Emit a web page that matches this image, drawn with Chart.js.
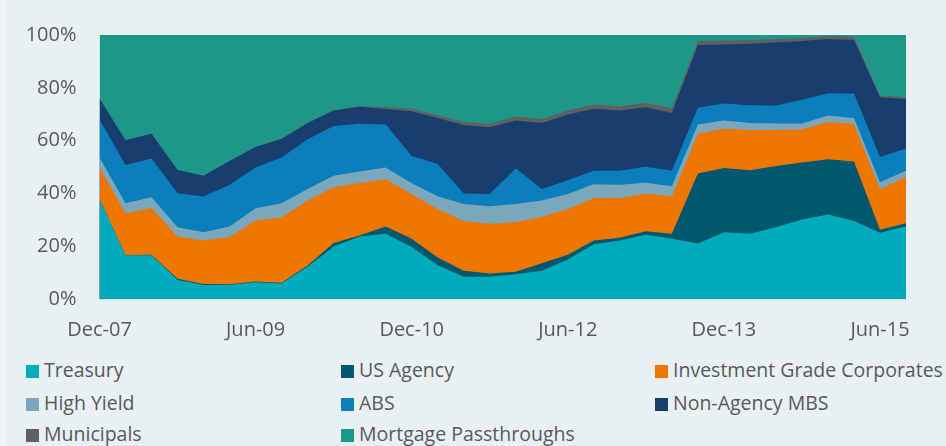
<!DOCTYPE html>
<html>
<head>
<meta charset="utf-8">
<script src="https://cdn.jsdelivr.net/npm/chart.js@4"></script>
<style>
    body { margin: 0; width: 946px; height: 446px; background: #eef4f7; overflow: hidden; font-family: 'Open Sans', sans-serif; }
    #panel { position: absolute; left: 7px; top: 0; width: 939px; height: 446px; background: #e8f0f4; }
    #chartBox { position: absolute; left: 0; top: 0; width: 946px; height: 350px; }
    .legend-item { position: absolute; height: 26px; line-height: 26px; font-size: 19.5px; color: #595959; white-space: nowrap; }
    .legend-item span { display: inline-block; width: 13px; height: 13px; margin-right: 5px; vertical-align: -1px; }
</style>
</head>
<body>
<div id="panel"></div>
<div id="chartBox"><canvas id="chart" width="946" height="350"></canvas></div>
<div id="legend"></div>
<script>
// quarter-end dates
const quarters = ['Dec-07', 'Mar-08', 'Jun-08', 'Sep-08', 'Dec-08', 'Mar-09', 'Jun-09', 'Sep-09',
    'Dec-09', 'Mar-10', 'Jun-10', 'Sep-10', 'Dec-10', 'Mar-11', 'Jun-11', 'Sep-11',
    'Dec-11', 'Mar-12', 'Jun-12', 'Sep-12', 'Dec-12', 'Mar-13', 'Jun-13', 'Sep-13',
    'Dec-13', 'Mar-14', 'Jun-14', 'Sep-14', 'Dec-14', 'Mar-15', 'Jun-15', 'Sep-15'];

// sector weights, % of portfolio
const treasury = [37.9, 16.6, 16.6, 7.2, 5.3, 5.3, 6.3, 5.9, 12.2, 19.9, 23.7, 24.7, 19.7, 12.8, 8.4, 8.4,
    9.4, 10.7, 15.0, 20.7, 22.2, 24.3, 22.8, 21.0, 25.3, 24.7, 27.2, 30.1, 32.0, 29.5, 25.1, 27.5];
const usAgency = [0, 0, 0.2, 0.5, 0.4, 0.3, 0.3, 0.3, 0.5, 1.3, 0.4, 2.8, 3.1, 2.9, 2.3, 1.3,
    0.9, 2.8, 1.8, 1.5, 1.0, 1.4, 1.9, 26.5, 24.3, 24.1, 23.2, 21.6, 20.9, 22.6, 1.1, 1.2];
const igCorporates = [11.9, 15.9, 17.7, 16.0, 16.5, 17.9, 23.1, 24.8, 24.6, 21.1, 19.8, 17.9, 17.0, 18.4, 18.8, 18.8,
    18.8, 17.7, 17.3, 16.1, 15.1, 14.3, 14.2, 15.1, 15.0, 15.2, 13.6, 12.5, 14.1, 14.3, 15.4, 17.6];
const highYield = [3.8, 3.8, 4.0, 3.5, 3.1, 4.0, 4.7, 5.3, 4.4, 4.4, 4.4, 4.4, 4.0, 4.8, 6.5, 6.6,
    6.9, 6.1, 5.7, 5.2, 5.0, 4.0, 3.8, 3.5, 3.0, 2.7, 2.5, 2.3, 2.5, 2.2, 2.6, 2.3];
const abs = [14.4, 14.5, 14.7, 12.9, 13.5, 15.8, 15.4, 17.3, 18.8, 18.8, 18.1, 16.3, 10.4, 12.2, 4.0, 4.7,
    13.4, 4.4, 5.2, 5.1, 5.3, 6.1, 5.9, 6.3, 6.5, 6.7, 6.8, 9.0, 8.4, 9.2, 9.6, 8.4];
const nonAgencyMbs = [7.9, 9.3, 9.4, 8.8, 7.9, 9.0, 7.8, 7.1, 6.2, 5.9, 6.4, 5.9, 16.9, 17.5, 25.9, 25.3,
    18.2, 25.0, 24.9, 23.5, 22.8, 22.5, 21.9, 23.8, 22.3, 23.3, 23.9, 22.2, 20.6, 20.3, 22.6, 18.8];
const municipals = [0, 0, 0, 0, 0, 0, 0, 0, 0, 0, 0.3, 0.7, 1.0, 1.0, 1.2, 1.3,
    1.5, 1.5, 1.5, 1.6, 1.6, 1.6, 1.8, 1.5, 1.5, 1.4, 1.3, 1.2, 1.1, 1.3, 0.6, 0.7];
const passthroughs = [24.1, 39.9, 37.4, 51.1, 53.3, 47.7, 42.4, 39.3, 33.3, 28.6, 26.9, 27.3, 27.9, 30.4, 32.9, 33.6,
    30.9, 31.8, 28.6, 26.3, 27.0, 25.8, 27.7, 2.3, 2.1, 1.9, 1.5, 1.1, 0.4, 0.6, 23.0, 23.5];

const yTicks = [0, 20, 40, 60, 80, 100];

const series = [
    { name: 'Treasury', data: treasury, color: '#00acbc' },
    { name: 'US Agency', data: usAgency, color: '#00586e' },
    { name: 'Investment Grade Corporates', data: igCorporates, color: '#ee7700' },
    { name: 'High Yield', data: highYield, color: '#7ba7bc' },
    { name: 'ABS', data: abs, color: '#0b7fbd' },
    { name: 'Non-Agency MBS', data: nonAgencyMbs, color: '#173e6e' },
    { name: 'Municipals', data: municipals, color: '#606060' },
    { name: 'Mortgage Passthroughs', data: passthroughs, color: '#1f9788' }
];

Chart.defaults.font.family = "'Open Sans', sans-serif";
Chart.defaults.color = '#595959';

new Chart(document.getElementById('chart'), {
    type: 'line',
    data: {
        labels: quarters,
        datasets: series.map(s => ({
            label: s.name,
            data: s.data,
            backgroundColor: s.color,
            borderColor: s.color,
            borderWidth: 0,
            pointRadius: 0,
            tension: 0,
            fill: 'origin'
        }))
    },
    options: {
        responsive: false,
        animation: false,
        layout: { padding: { left: 0, right: 40, top: 33, bottom: 0 } },
        plugins: { legend: { display: false }, tooltip: { enabled: false } },
        scales: {
            x: {
                offset: false,
                grid: { display: false, drawTicks: false },
                border: { display: true, color: '#d3dee5' },
                ticks: {
                    autoSkip: false,
                    maxRotation: 0,
                    padding: 19,
                    font: { size: 20 },
                    callback: (v, i) => (i % 6 === 0 ? quarters[i] : '')
                },
                afterFit: s => { s.height = 51; }
            },
            y: {
                stacked: true,
                min: 0,
                max: 100,
                grid: { display: false, drawTicks: false },
                border: { display: false },
                afterBuildTicks: s => { s.ticks = yTicks.map(v => ({ value: v })); },
                ticks: {
                    padding: 23,
                    font: { size: 20 },
                    callback: v => v + '%'
                },
                afterFit: s => { s.width = 99.5; }
            }
        }
    }
});

// legend, three columns like the original
const legendCols = [26, 341, 655];
const legendRows = [370, 403, 434];
const legend = document.getElementById('legend');
series.forEach((s, i) => {
    const item = document.createElement('div');
    item.className = 'legend-item';
    item.style.left = legendCols[i % 3] + 'px';
    item.style.top = (legendRows[Math.floor(i / 3)] - 13) + 'px';
    item.innerHTML = `<span style="background:${s.color}"></span>${s.name}`;
    legend.appendChild(item);
});
</script>
</body>
</html>
